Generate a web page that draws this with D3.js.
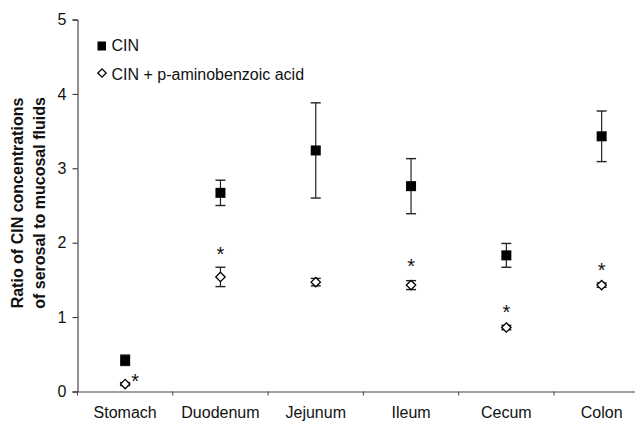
<!DOCTYPE html>
<html>
<head>
<meta charset="utf-8">
<script src="https://cdn.jsdelivr.net/npm/d3@7"></script>
<style>
  body { margin: 0; background: #fff; }
  svg { font-family: "Liberation Sans", Arial, sans-serif; }
</style>
</head>
<body>
<div id="chart"></div>
<script>
const segments = ['Stomach', 'Duodenum', 'Jejunum', 'Ileum', 'Cecum', 'Colon'];
const cinMean = [0.42, 2.67, 3.24, 2.76, 1.83, 3.43];
const cinErr = [0.07, 0.17, 0.64, 0.37, 0.16, 0.34];
const pabaMean = [0.10, 1.54, 1.47, 1.43, 0.86, 1.43];
const pabaErr = [0.02, 0.13, 0.05, 0.06, 0.03, 0.03];
// asterisk: [segment index, value, dx offset]
const signif = [[0, 0.20, 10], [1, 1.90, 0], [3, 1.74, 0], [4, 1.12, 0], [5, 1.69, 0]];
const yTicks = [0, 1, 2, 3, 4, 5];

const width = 635, height = 422;
const plotLeft = 77.5, plotBottom = 391.5, plotTop = 19.5;
const bandW = 95.3;

const svg = d3.select('#chart').append('svg')
  .attr('width', width)
  .attr('height', height);

const x = d3.scaleBand()
  .domain(segments)
  .range([plotLeft, plotLeft + bandW * segments.length]);

const y = d3.scaleLinear()
  .domain([0, 5])
  .range([plotBottom, plotTop]);

// y axis
const yAxis = d3.axisLeft(y).tickValues(yTicks).tickFormat(d3.format('d')).tickSize(5).tickPadding(6);
const gy = svg.append('g').attr('transform', `translate(${plotLeft},0)`).call(yAxis);
gy.select('.domain').attr('stroke', '#222');
gy.selectAll('.tick line').attr('stroke', '#222');
gy.selectAll('.tick text').style('font-size', '16px').attr('fill', '#111');

// x axis
const xAxis = d3.axisBottom(x).tickSize(0).tickPadding(15);
const gx = svg.append('g').attr('transform', `translate(0,${plotBottom})`).call(xAxis);
gx.select('.domain').attr('stroke', '#444');
gx.selectAll('.tick text').style('font-size', '16px').attr('fill', '#111');
// category separator ticks
gx.selectAll('.sep')
  .data(d3.range(segments.length + 1))
  .enter()
  .append('line')
  .attr('class', 'sep')
  .attr('x1', i => plotLeft + i * bandW)
  .attr('x2', i => plotLeft + i * bandW)
  .attr('y1', 0)
  .attr('y2', 4)
  .attr('stroke', '#444');

// y label
svg.append('text')
  .attr('transform', 'translate(23,203) rotate(-90)')
  .attr('text-anchor', 'middle')
  .style('font-size', '16px')
  .style('font-weight', 'bold')
  .attr('fill', '#111')
  .text('Ratio of CIN concentrations');
svg.append('text')
  .attr('transform', 'translate(45,203) rotate(-90)')
  .attr('text-anchor', 'middle')
  .style('font-size', '16px')
  .style('font-weight', 'bold')
  .attr('fill', '#111')
  .text('of serosal to mucosal fluids');

const cx = i => x(segments[i]) + x.bandwidth() / 2;

const drawErr = (means, errs, cls) => {
  const g = svg.append('g').attr('class', cls);
  means.forEach((m, i) => {
    const e = errs[i];
    g.append('line')
      .attr('x1', cx(i)).attr('x2', cx(i))
      .attr('y1', y(m + e)).attr('y2', y(m - e))
      .attr('stroke', '#222').attr('stroke-width', 1.2);
    [m + e, m - e].forEach(v => {
      g.append('line')
        .attr('x1', cx(i) - 5).attr('x2', cx(i) + 5)
        .attr('y1', y(v)).attr('y2', y(v))
        .attr('stroke', '#222').attr('stroke-width', 1.4);
    });
  });
};

drawErr(cinMean, cinErr, 'cin-err');
drawErr(pabaMean, pabaErr, 'paba-err');

// CIN squares
svg.append('g')
  .selectAll('rect')
  .data(cinMean)
  .enter()
  .append('rect')
  .attr('x', (d, i) => cx(i) - 5)
  .attr('y', d => y(d) - 5)
  .attr('width', 10)
  .attr('height', 10)
  .attr('fill', '#000');

// PABA diamonds
const diamond = d3.symbol().type(d3.symbolDiamond2).size(56);
svg.append('g')
  .selectAll('path')
  .data(pabaMean)
  .enter()
  .append('path')
  .attr('d', diamond)
  .attr('transform', (d, i) => `translate(${cx(i)},${y(d)})`)
  .attr('fill', '#fff')
  .attr('stroke', '#000')
  .attr('stroke-width', 1.3);

// asterisks
svg.append('g')
  .selectAll('text')
  .data(signif)
  .enter()
  .append('text')
  .attr('x', d => cx(d[0]) + d[2])
  .attr('y', d => y(d[1]) + 11)
  .attr('text-anchor', 'middle')
  .style('font-size', '20px')
  .attr('fill', '#111')
  .text('*');

// legend
const legend = svg.append('g');
legend.append('rect')
  .attr('x', 97.5).attr('y', 41.5)
  .attr('width', 8.5).attr('height', 9)
  .attr('fill', '#000');
legend.append('text')
  .attr('x', 111.5).attr('y', 50.5)
  .style('font-size', '16px').attr('fill', '#111')
  .text('CIN');
legend.append('path')
  .attr('d', d3.symbol().type(d3.symbolDiamond2).size(44))
  .attr('transform', 'translate(102,73)')
  .attr('fill', '#fff').attr('stroke', '#000').attr('stroke-width', 1.3);
legend.append('text')
  .attr('x', 111.5).attr('y', 79.5)
  .style('font-size', '16px').attr('fill', '#111')
  .text('CIN + p-aminobenzoic acid');
</script>
</body>
</html>
